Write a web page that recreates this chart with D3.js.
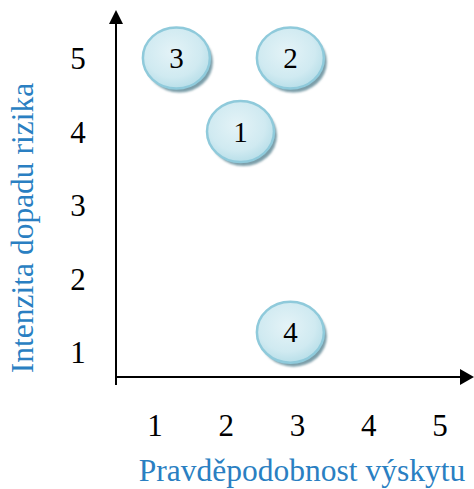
<!DOCTYPE html>
<html>
<head>
<meta charset="utf-8">
<script src="https://cdn.jsdelivr.net/npm/d3@7"></script>
<style>
  html, body { margin: 0; padding: 0; background: #fff; }
  svg { display: block; }
</style>
</head>
<body>
<svg id="chart" width="474" height="489"></svg>
<script>
// Risk matrix: probability of occurrence vs. impact intensity
const riskIds      = ["1", "2", "3", "4"];
const probability  = [2.2, 2.9, 1.3, 2.9];
const impact       = [4, 5, 5, 1.27];
const xTickLabels  = [1, 2, 3, 4, 5];
const yTickLabels  = [1, 2, 3, 4, 5];
const xTitle = "Pravděpodobnost výskytu";
const yTitle = "Intenzita dopadu rizika";

const svg = d3.select("#chart");
const serif = "'Liberation Serif', 'Times New Roman', serif";
const titleColor = "#2a7fc2";

// scales
const x = d3.scaleLinear().domain([1, 5]).range([155, 440]);
const y = d3.scaleLinear().domain([1, 5]).range([352, 58]);

const originX = 116, originY = 377;

// defs: bubble gradient, shadow blur
const defs = svg.append("defs");
const grad = defs.append("radialGradient")
  .attr("id", "bubbleFill")
  .attr("cx", "45%").attr("cy", "40%").attr("r", "60%");
grad.append("stop").attr("offset", "0%").attr("stop-color", "#e4f3f7");
grad.append("stop").attr("offset", "70%").attr("stop-color", "#d0eaf1");
grad.append("stop").attr("offset", "100%").attr("stop-color", "#b9dfe9");

defs.append("filter").attr("id", "soft")
  .attr("x", "-20%").attr("y", "-20%").attr("width", "140%").attr("height", "140%")
  .append("feGaussianBlur").attr("stdDeviation", 1.2);

// axes lines
svg.append("line")
  .attr("x1", originX).attr("y1", 385)
  .attr("x2", originX).attr("y2", 22)
  .attr("stroke", "#000").attr("stroke-width", 2);
svg.append("line")
  .attr("x1", originX - 1).attr("y1", originY)
  .attr("x2", 462).attr("y2", originY)
  .attr("stroke", "#000").attr("stroke-width", 2);

// arrowheads
svg.append("path")
  .attr("d", `M${originX},10 L${originX + 7},24 L${originX - 7},24 Z`)
  .attr("fill", "#000");
svg.append("path")
  .attr("d", `M474,${originY} L460,${originY - 8} L460,${originY + 8} Z`)
  .attr("fill", "#000");

// tick labels
svg.append("g").selectAll("text")
  .data(xTickLabels)
  .join("text")
  .attr("x", d => x(d))
  .attr("y", 436)
  .attr("text-anchor", "middle")
  .attr("font-family", serif)
  .attr("font-size", 31)
  .attr("fill", "#000")
  .text(d => d);

svg.append("g").selectAll("text")
  .data(yTickLabels)
  .join("text")
  .attr("x", 78)
  .attr("y", d => y(d) + 11)
  .attr("text-anchor", "middle")
  .attr("font-family", serif)
  .attr("font-size", 31)
  .attr("fill", "#000")
  .text(d => d);

// axis titles
svg.append("text")
  .attr("x", 302)
  .attr("y", 481)
  .attr("text-anchor", "middle")
  .attr("font-family", serif)
  .attr("font-size", 31.5)
  .attr("fill", titleColor)
  .text(xTitle);

svg.append("text")
  .attr("transform", "translate(33,228) rotate(-90)")
  .attr("text-anchor", "middle")
  .attr("font-family", serif)
  .attr("font-size", 31.5)
  .attr("fill", titleColor)
  .text(yTitle);

// risk bubbles
const risks = riskIds.map((id, i) => ({ id, px: probability[i], iy: impact[i] }));
const bubble = svg.append("g").selectAll("g")
  .data(risks)
  .join("g")
  .attr("transform", d => `translate(${x(d.px)},${y(d.iy)})`);

bubble.append("ellipse")
  .attr("cx", 3).attr("cy", 4)
  .attr("rx", 33.5).attr("ry", 30.5)
  .attr("fill", "#7c9ea9")
  .attr("filter", "url(#soft)");

bubble.append("ellipse")
  .attr("rx", 33.5).attr("ry", 30.5)
  .attr("fill", "url(#bubbleFill)")
  .attr("stroke", "#8fcadb")
  .attr("stroke-width", 2.5);

bubble.append("text")
  .attr("y", 10)
  .attr("text-anchor", "middle")
  .attr("font-family", serif)
  .attr("font-size", 29)
  .attr("fill", "#000")
  .text(d => d.id);
</script>
</body>
</html>
